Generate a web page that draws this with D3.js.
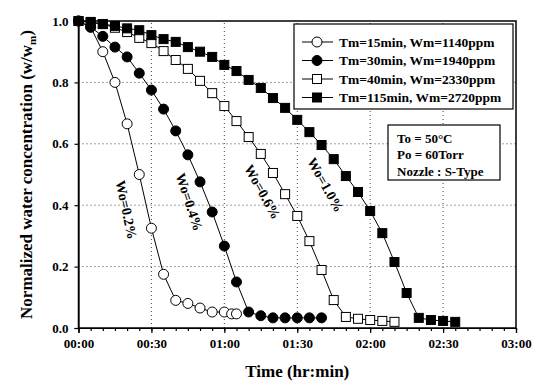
<!DOCTYPE html>
<html>
<head>
<meta charset="utf-8">
<script src="https://cdn.jsdelivr.net/npm/d3@7"></script>
<style>
  body { margin: 0; background: #fff; }
  text { font-family: "Liberation Serif", "Times New Roman", serif; font-weight: bold; fill: #000; }
</style>
</head>
<body>
<div id="chart"></div>
<script>
// time in minutes, values normalized w/wm
const seriesNames = ["Tm=15min, Wm=1140ppm", "Tm=30min, Wm=1940ppm", "Tm=40min, Wm=2330ppm", "Tm=115min, Wm=2720ppm"];
const markerTypes = ["openCircle", "filledCircle", "openSquare", "filledSquare"];

const t15 = [0, 5, 10, 15, 20, 25, 30, 35, 40, 45, 50, 55, 60, 63, 65];
const v15 = [1.0, 0.98, 0.90, 0.80, 0.665, 0.50, 0.325, 0.175, 0.09, 0.08, 0.065, 0.052, 0.052, 0.046, 0.046];

const t30 = [0, 5, 10, 15, 20, 25, 30, 35, 40, 45, 50, 55, 60, 65, 70, 75, 80, 85, 90, 95, 100];
const v30 = [1.0, 0.98, 0.95, 0.915, 0.883, 0.83, 0.775, 0.713, 0.642, 0.564, 0.476, 0.378, 0.267, 0.15, 0.052, 0.04, 0.033, 0.033, 0.033, 0.033, 0.033];

const t40 = [0, 5, 10, 15, 20, 25, 30, 35, 40, 45, 50, 55, 60, 65, 70, 75, 80, 85, 90, 95, 100, 105, 110, 115, 120, 125, 130];
const v40 = [1.0, 0.995, 0.99, 0.978, 0.964, 0.945, 0.928, 0.902, 0.873, 0.844, 0.805, 0.765, 0.723, 0.674, 0.622, 0.567, 0.505, 0.436, 0.365, 0.283, 0.189, 0.091, 0.036, 0.03, 0.026, 0.023, 0.02];

const t115 = [0, 5, 10, 15, 20, 25, 30, 35, 40, 45, 50, 55, 60, 65, 70, 75, 80, 85, 90, 95, 100, 105, 110, 115, 120, 125, 130, 135, 140, 145, 150, 155];
const v115 = [1.0, 0.997, 0.99, 0.984, 0.976, 0.97, 0.954, 0.941, 0.932, 0.915, 0.90, 0.883, 0.857, 0.837, 0.808, 0.782, 0.749, 0.717, 0.678, 0.638, 0.596, 0.55, 0.495, 0.443, 0.381, 0.309, 0.215, 0.114, 0.033, 0.026, 0.023, 0.02];

const xTicks = [0, 30, 60, 90, 120, 150, 180];
const yTicks = [0.0, 0.2, 0.4, 0.6, 0.8, 1.0];

const wLabels = ["Wo=0.2%", "Wo=0.4%", "Wo=0.6%", "Wo=1.0%"];
const wLabelAt = [[19.6, 0.385], [45.5, 0.41], [75.6, 0.443], [101.5, 0.466]]; // [minutes, value]
const wLabelAngle = [78, 72, 61, 61];

const condLines = ["To = 50\u00B0C", "Po = 60Torr", "Nozzle : S-Type"];

const width = 540, height = 385;
const margin = { top: 21, right: 24, bottom: 57, left: 78.5 };

const svg = d3.select("#chart").append("svg")
  .attr("width", width)
  .attr("height", height)
  .style("background", "#fff");

const x = d3.scaleLinear().domain([0, 180]).range([margin.left, width - margin.right]);
const y = d3.scaleLinear().domain([0, 1]).range([height - margin.bottom, margin.top]);

const fmtTime = m => d3.format("02d")(Math.floor(m / 60)) + ":" + d3.format("02d")(m % 60);

// grid
const grid = svg.append("g").attr("stroke", "#444").attr("stroke-width", 1).attr("stroke-dasharray", "1,3");
grid.selectAll(".gx").data(xTicks.slice(1, -1)).enter().append("line")
  .attr("x1", d => x(d)).attr("x2", d => x(d))
  .attr("y1", y(0)).attr("y2", y(1));
grid.selectAll(".gy").data(yTicks.slice(1, -1)).enter().append("line")
  .attr("x1", x(0)).attr("x2", x(180))
  .attr("y1", d => y(d)).attr("y2", d => y(d));

// axes
svg.append("g")
  .attr("transform", "translate(0," + y(0) + ")")
  .call(d3.axisBottom(x).tickValues(xTicks).tickFormat(fmtTime).tickSize(5).tickPadding(6));
svg.append("g")
  .attr("transform", "translate(0," + y(0) + ")")
  .call(d3.axisBottom(x).tickValues(d3.range(0, 181, 5)).tickFormat("").tickSize(3))
  .select(".domain").remove();
svg.append("g")
  .attr("transform", "translate(" + x(0) + ",0)")
  .call(d3.axisLeft(y).tickValues(yTicks).tickFormat(d3.format(".1f")).tickSize(4).tickPadding(6));

svg.selectAll(".tick text").style("font-size", "13px").style("font-family", "'Liberation Serif', serif").style("font-weight", "bold");
svg.selectAll(".domain, .tick line").attr("stroke", "#000").attr("stroke-width", 1.2);

// frame
svg.append("rect")
  .attr("x", x(0)).attr("y", y(1))
  .attr("width", x(180) - x(0)).attr("height", y(0) - y(1))
  .attr("fill", "none").attr("stroke", "#000").attr("stroke-width", 1.5);

// series
const series = [
  { t: t40, v: v40, m: markerTypes[2] },
  { t: t15, v: v15, m: markerTypes[0] },
  { t: t30, v: v30, m: markerTypes[1] },
  { t: t115, v: v115, m: markerTypes[3] }
];

const line = d3.line().x(d => x(d[0])).y(d => y(d[1]));

function drawMarker(g, type, cx, cy) {
  const fill = type.startsWith("filled") ? "#000" : "#fff";
  if (type.endsWith("Circle")) {
    g.append("circle").attr("cx", cx).attr("cy", cy).attr("r", 5)
      .attr("fill", fill).attr("stroke", "#000").attr("stroke-width", 1);
  } else {
    g.append("rect").attr("x", cx - 4.5).attr("y", cy - 4.5).attr("width", 9).attr("height", 9)
      .attr("fill", fill).attr("stroke", "#000").attr("stroke-width", 1);
  }
}

series.forEach(s => {
  const pts = s.t.map((t, i) => [t, s.v[i]]);
  svg.append("path").datum(pts).attr("d", line)
    .attr("fill", "none").attr("stroke", "#000").attr("stroke-width", 1);
  const g = svg.append("g");
  pts.forEach(p => drawMarker(g, s.m, x(p[0]), y(p[1])));
});

// Wo labels
wLabels.forEach((lab, i) => {
  svg.append("text")
    .attr("transform", "translate(" + x(wLabelAt[i][0]) + "," + y(wLabelAt[i][1]) + ") rotate(" + wLabelAngle[i] + ")")
    .attr("text-anchor", "middle")
    .attr("dominant-baseline", "central")
    .style("font-size", "14px")
    .text(lab);
});

// legend
const lg = svg.append("g");
lg.append("rect").attr("x", 294).attr("y", 24).attr("width", 219).attr("height", 85)
  .attr("fill", "#fff").attr("stroke", "#000").attr("stroke-width", 1.2);
seriesNames.forEach((name, i) => {
  const ly = 42 + i * 18.5;
  lg.append("line").attr("x1", 302).attr("x2", 333).attr("y1", ly).attr("y2", ly)
    .attr("stroke", "#000").attr("stroke-width", 1);
  drawMarker(lg, markerTypes[i], 317, ly);
  lg.append("text").attr("x", 339).attr("y", ly).attr("dominant-baseline", "central")
    .style("font-size", "13.5px").text(name);
});

// conditions box
const cb = svg.append("g");
cb.append("rect").attr("x", 388).attr("y", 125).attr("width", 112).attr("height", 55)
  .attr("fill", "#fff").attr("stroke", "#000").attr("stroke-width", 1.2);
condLines.forEach((txt, i) => {
  cb.append("text").attr("x", 397).attr("y", 138 + i * 16.5).attr("dominant-baseline", "central")
    .style("font-size", "13px").text(txt);
});

// axis titles
svg.append("text")
  .attr("x", (x(0) + x(180)) / 2).attr("y", 377)
  .attr("text-anchor", "middle")
  .style("font-size", "17px")
  .text("Time (hr:min)");

const yt = svg.append("text")
  .attr("transform", "translate(26," + ((y(0) + y(1)) / 2) + ") rotate(-90)")
  .attr("text-anchor", "middle")
  .attr("dominant-baseline", "central")
  .style("font-size", "17px");
yt.append("tspan").text("Normalized water concentration (w/w");
yt.append("tspan").attr("baseline-shift", "sub").style("font-size", "11px").text("m");
yt.append("tspan").text(")");
</script>
</body>
</html>
